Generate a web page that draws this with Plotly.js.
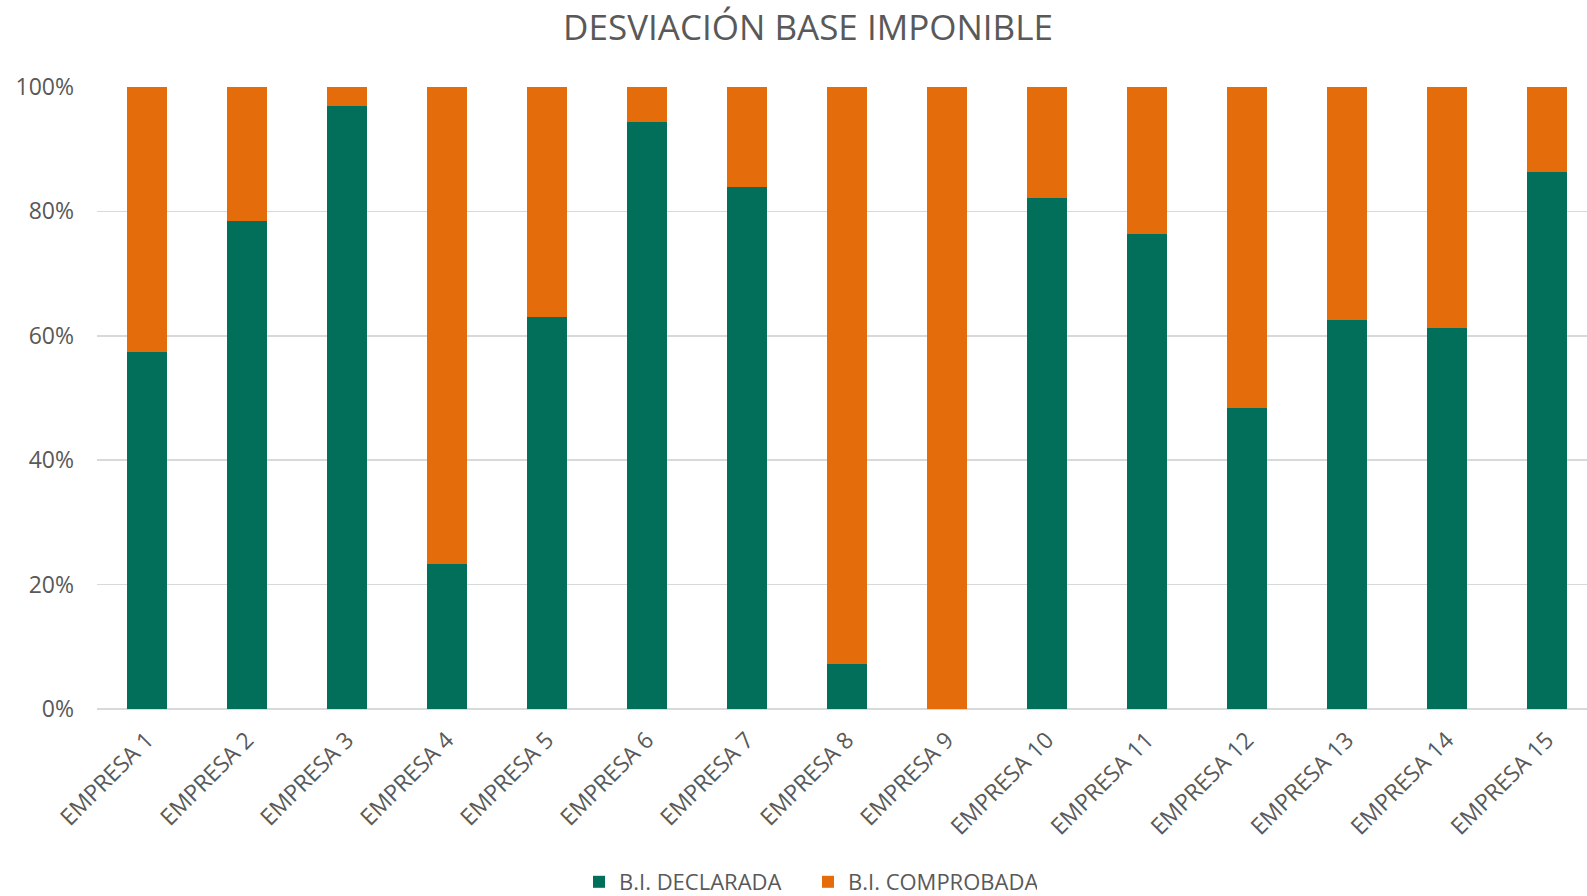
<!DOCTYPE html>
<html>
<head>
<meta charset="utf-8">
<script src="https://cdn.plot.ly/plotly-3.0.1.min.js"></script>
<style>html,body{margin:0;padding:0;background:#fff;}#chart{width:1587px;height:896px;}</style>
</head>
<body>
<div id="chart"></div>
<script>
const categories = ["EMPRESA 1","EMPRESA 2","EMPRESA 3","EMPRESA 4","EMPRESA 5","EMPRESA 6","EMPRESA 7","EMPRESA 8","EMPRESA 9","EMPRESA 10","EMPRESA 11","EMPRESA 12","EMPRESA 13","EMPRESA 14","EMPRESA 15"];
const declarada = [57.4, 78.4, 96.9, 23.3, 63.1, 94.3, 84.0, 7.3, 0.0, 82.2, 76.3, 48.4, 62.5, 61.3, 86.4];
const comprobada = [42.6, 21.6, 3.1, 76.7, 36.9, 5.7, 16.0, 92.7, 100.0, 17.8, 23.7, 51.6, 37.5, 38.7, 13.6];
const seriesNames = ["B.I. DECLARADA", "B.I. COMPROBADA"];
const yTicks = [0, 20, 40, 60, 80, 100];

const FONT = "Open Sans, sans-serif";
const TXT = "#595959";

const traces = [
  {type: "bar", name: seriesNames[0], x: categories, y: declarada,
   marker: {color: "#026F5B", line: {width: 0}}, hoverinfo: "x+y"},
  {type: "bar", name: seriesNames[1], x: categories, y: comprobada,
   marker: {color: "#E56C0A", line: {width: 0}}, hoverinfo: "x+y"}
];

const layout = {
  width: 1587, height: 896,
  margin: {l: 97, r: 0, t: 87, b: 187},
  paper_bgcolor: "#fff", plot_bgcolor: "#fff",
  barmode: "stack", barnorm: "percent", bargap: 0.6,
  font: {family: FONT, color: TXT},
  title: {text: "DESVIACIÓN BASE IMPONIBLE", font: {family: FONT, size: 35, color: TXT},
          xref: "container", x: 808/1587, xanchor: "center",
          yref: "container", y: 1 - 28/896, yanchor: "middle"},
  xaxis: {type: "category", range: [-0.5, 14.4], tickangle: -45,
          tickfont: {family: FONT, size: 23, color: TXT},
          showgrid: false, showline: false, zeroline: false, ticks: "", ticklabelstandoff: 12, fixedrange: true},
  yaxis: {range: [0, 100], tickvals: yTicks, ticktext: yTicks.map(v => v + "%"),
          tickfont: {family: FONT, size: 23, color: TXT},
          showgrid: true, gridcolor: "#D9D9D9", gridwidth: 1.5,
          zeroline: true, zerolinecolor: "#D9D9D9", zerolinewidth: 1.5,
          showline: false, ticks: "", ticklabelstandoff: 22, fixedrange: true},
  showlegend: true,
  legend: {orientation: "h", xref: "container", x: 808/1587, xanchor: "center",
           yref: "container", y: 1 - 882/896, yanchor: "middle",
           font: {family: FONT, size: 22, color: TXT}, traceorder: "normal",
           entrywidth: 184, itemwidth: 30,
           itemclick: false, itemdoubleclick: false}
};

Plotly.newPlot("chart", traces, layout, {displayModeBar: false, staticPlot: true});
</script>
</body>
</html>
